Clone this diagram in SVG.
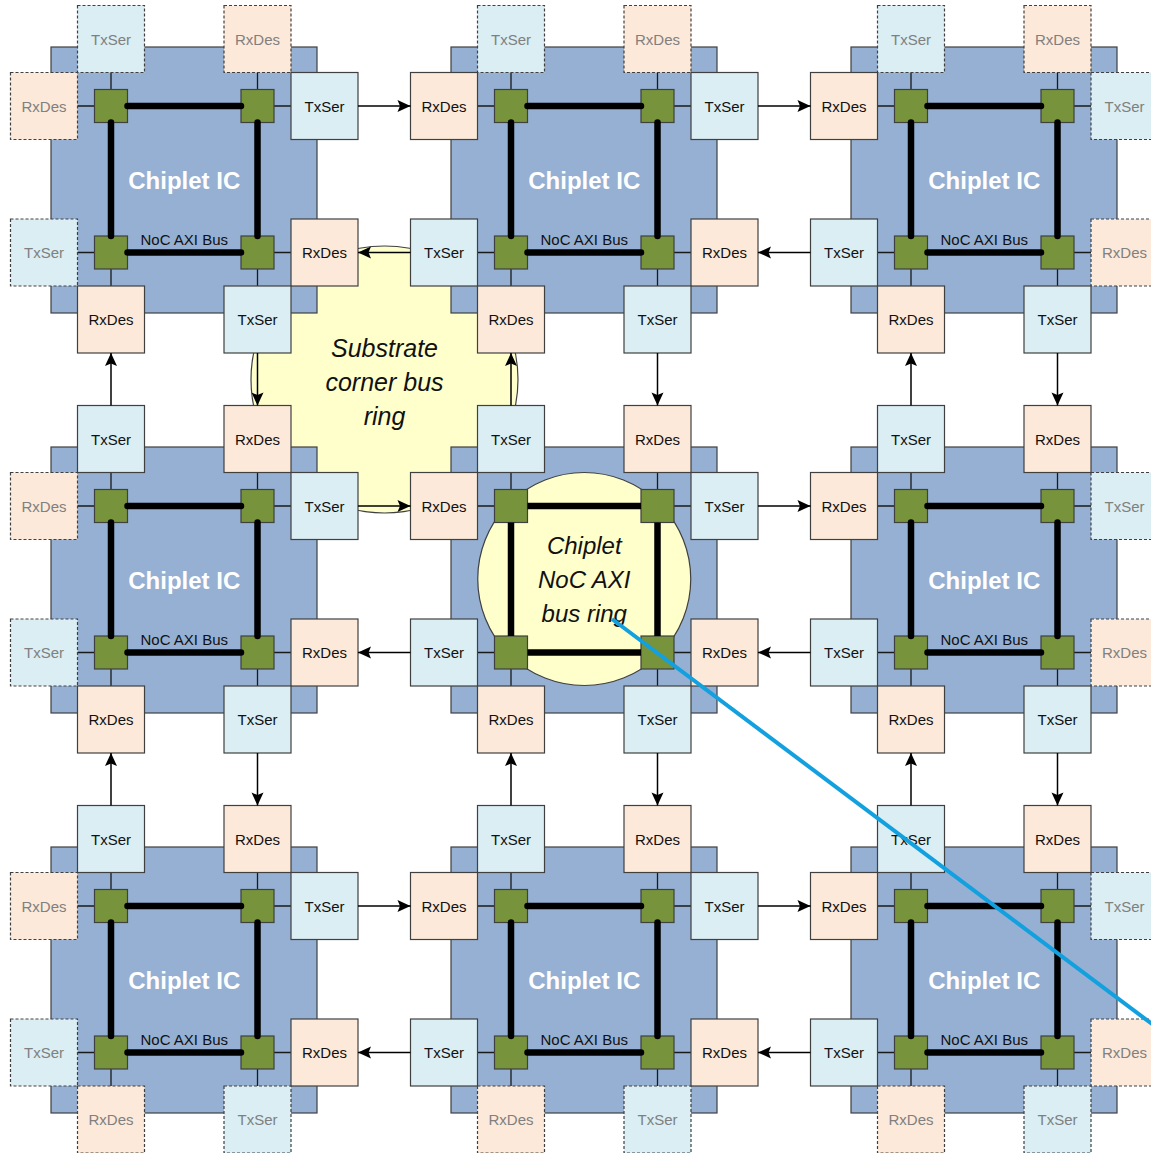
<svg xmlns="http://www.w3.org/2000/svg" width="1151" height="1153" viewBox="0 0 1151 1153">
<style>
.bg{fill:#ffffff}
.chip{fill:#95B0D3;stroke:#404040;stroke-width:1.2}
.tx{fill:#DAEEF3;stroke:#404040;stroke-width:1.2}
.rx{fill:#FDE9D9;stroke:#404040;stroke-width:1.2}
.d{stroke-dasharray:3 2}
.node{fill:#77933C;stroke:#404040;stroke-width:1.2}
.stub{fill:none;stroke:#1a1a1a;stroke-width:1.3}
.bus{fill:none;stroke:#000;stroke-width:6.5;stroke-linecap:round}
.ring{fill:#FFFFCC;stroke:#404040;stroke-width:1.2}
.t{font-family:"Liberation Sans",Arial,sans-serif;font-size:15px;fill:#111;text-anchor:middle}
.g{fill:#808080}
.ic{font-family:"Liberation Sans",Arial,sans-serif;font-size:24px;font-weight:bold;fill:#ffffff;text-anchor:middle}
.it{font-family:"Liberation Sans",Arial,sans-serif;font-size:25px;font-style:italic;fill:#111;text-anchor:middle}
.it2{font-family:"Liberation Sans",Arial,sans-serif;font-size:24px;font-style:italic;fill:#111;text-anchor:middle}
.arr{fill:none;stroke:#000;stroke-width:1.5;marker-end:url(#ah)}
</style>
<defs>
<marker id="ah" markerUnits="userSpaceOnUse" markerWidth="16" markerHeight="14" viewBox="0 -7 14 14" refX="13" refY="0" orient="auto">
<path d="M0,-6 L13,0 L0,6 L2.5,0 z" fill="#000"/>
</marker>
</defs>
<rect class="bg" x="0" y="0" width="1151" height="1153"/>

<g id="substrate-ring">
<circle class="ring" cx="384.5" cy="379.5" r="133.5"/>
<text class="it" x="384.5" y="357">Substrate</text>
<text class="it" x="384.5" y="391">corner bus</text>
<text class="it" x="384.5" y="425">ring</text>
</g>

<g id="chiplet-0-0">
<rect class="chip" x="51" y="47" width="266" height="266"/>
<path class="stub" d="M111,72.5V89.5M77.5,106H94.5M257.5,72.5V89.5M274,106H291M77.5,252.5H94.5M111,269V286M274,252.5H291M257.5,269V286"/>
<rect class="tx d" x="77.5" y="5.5" width="67" height="67"/><text class="t g" x="111" y="44.5">TxSer</text>
<rect class="rx d" x="224" y="5.5" width="67" height="67"/><text class="t g" x="257.5" y="44.5">RxDes</text>
<rect class="rx d" x="10.5" y="72.5" width="67" height="67"/><text class="t g" x="44" y="111.5">RxDes</text>
<rect class="tx" x="291" y="72.5" width="67" height="67"/><text class="t" x="324.5" y="111.5">TxSer</text>
<rect class="tx d" x="10.5" y="219" width="67" height="67"/><text class="t g" x="44" y="258">TxSer</text>
<rect class="rx" x="291" y="219" width="67" height="67"/><text class="t" x="324.5" y="258">RxDes</text>
<rect class="rx" x="77.5" y="286" width="67" height="67"/><text class="t" x="111" y="325">RxDes</text>
<rect class="tx" x="224" y="286" width="67" height="67"/><text class="t" x="257.5" y="325">TxSer</text>
<rect class="node" x="94.5" y="89.5" width="33" height="33"/><rect class="node" x="241" y="89.5" width="33" height="33"/>
<rect class="node" x="94.5" y="236" width="33" height="33"/><rect class="node" x="241" y="236" width="33" height="33"/>
<path class="bus" d="M127.5,106H241M127.5,252.5H241M111,122.5V236M257.5,122.5V236"/>
<text class="ic" x="184.25" y="189">Chiplet IC</text>
<text class="t" x="184.25" y="245">NoC AXI Bus</text>
</g>

<g id="chiplet-1-0" transform="translate(400,0)">
<rect class="chip" x="51" y="47" width="266" height="266"/>
<path class="stub" d="M111,72.5V89.5M77.5,106H94.5M257.5,72.5V89.5M274,106H291M77.5,252.5H94.5M111,269V286M274,252.5H291M257.5,269V286"/>
<rect class="tx d" x="77.5" y="5.5" width="67" height="67"/><text class="t g" x="111" y="44.5">TxSer</text>
<rect class="rx d" x="224" y="5.5" width="67" height="67"/><text class="t g" x="257.5" y="44.5">RxDes</text>
<rect class="rx" x="10.5" y="72.5" width="67" height="67"/><text class="t" x="44" y="111.5">RxDes</text>
<rect class="tx" x="291" y="72.5" width="67" height="67"/><text class="t" x="324.5" y="111.5">TxSer</text>
<rect class="tx" x="10.5" y="219" width="67" height="67"/><text class="t" x="44" y="258">TxSer</text>
<rect class="rx" x="291" y="219" width="67" height="67"/><text class="t" x="324.5" y="258">RxDes</text>
<rect class="rx" x="77.5" y="286" width="67" height="67"/><text class="t" x="111" y="325">RxDes</text>
<rect class="tx" x="224" y="286" width="67" height="67"/><text class="t" x="257.5" y="325">TxSer</text>
<rect class="node" x="94.5" y="89.5" width="33" height="33"/><rect class="node" x="241" y="89.5" width="33" height="33"/>
<rect class="node" x="94.5" y="236" width="33" height="33"/><rect class="node" x="241" y="236" width="33" height="33"/>
<path class="bus" d="M127.5,106H241M127.5,252.5H241M111,122.5V236M257.5,122.5V236"/>
<text class="ic" x="184.25" y="189">Chiplet IC</text>
<text class="t" x="184.25" y="245">NoC AXI Bus</text>
</g>

<g id="chiplet-2-0" transform="translate(800,0)">
<rect class="chip" x="51" y="47" width="266" height="266"/>
<path class="stub" d="M111,72.5V89.5M77.5,106H94.5M257.5,72.5V89.5M274,106H291M77.5,252.5H94.5M111,269V286M274,252.5H291M257.5,269V286"/>
<rect class="tx d" x="77.5" y="5.5" width="67" height="67"/><text class="t g" x="111" y="44.5">TxSer</text>
<rect class="rx d" x="224" y="5.5" width="67" height="67"/><text class="t g" x="257.5" y="44.5">RxDes</text>
<rect class="rx" x="10.5" y="72.5" width="67" height="67"/><text class="t" x="44" y="111.5">RxDes</text>
<rect class="tx d" x="291" y="72.5" width="67" height="67"/><text class="t g" x="324.5" y="111.5">TxSer</text>
<rect class="tx" x="10.5" y="219" width="67" height="67"/><text class="t" x="44" y="258">TxSer</text>
<rect class="rx d" x="291" y="219" width="67" height="67"/><text class="t g" x="324.5" y="258">RxDes</text>
<rect class="rx" x="77.5" y="286" width="67" height="67"/><text class="t" x="111" y="325">RxDes</text>
<rect class="tx" x="224" y="286" width="67" height="67"/><text class="t" x="257.5" y="325">TxSer</text>
<rect class="node" x="94.5" y="89.5" width="33" height="33"/><rect class="node" x="241" y="89.5" width="33" height="33"/>
<rect class="node" x="94.5" y="236" width="33" height="33"/><rect class="node" x="241" y="236" width="33" height="33"/>
<path class="bus" d="M127.5,106H241M127.5,252.5H241M111,122.5V236M257.5,122.5V236"/>
<text class="ic" x="184.25" y="189">Chiplet IC</text>
<text class="t" x="184.25" y="245">NoC AXI Bus</text>
</g>

<g id="chiplet-0-1" transform="translate(0,400)">
<rect class="chip" x="51" y="47" width="266" height="266"/>
<path class="stub" d="M111,72.5V89.5M77.5,106H94.5M257.5,72.5V89.5M274,106H291M77.5,252.5H94.5M111,269V286M274,252.5H291M257.5,269V286"/>
<rect class="tx" x="77.5" y="5.5" width="67" height="67"/><text class="t" x="111" y="44.5">TxSer</text>
<rect class="rx" x="224" y="5.5" width="67" height="67"/><text class="t" x="257.5" y="44.5">RxDes</text>
<rect class="rx d" x="10.5" y="72.5" width="67" height="67"/><text class="t g" x="44" y="111.5">RxDes</text>
<rect class="tx" x="291" y="72.5" width="67" height="67"/><text class="t" x="324.5" y="111.5">TxSer</text>
<rect class="tx d" x="10.5" y="219" width="67" height="67"/><text class="t g" x="44" y="258">TxSer</text>
<rect class="rx" x="291" y="219" width="67" height="67"/><text class="t" x="324.5" y="258">RxDes</text>
<rect class="rx" x="77.5" y="286" width="67" height="67"/><text class="t" x="111" y="325">RxDes</text>
<rect class="tx" x="224" y="286" width="67" height="67"/><text class="t" x="257.5" y="325">TxSer</text>
<rect class="node" x="94.5" y="89.5" width="33" height="33"/><rect class="node" x="241" y="89.5" width="33" height="33"/>
<rect class="node" x="94.5" y="236" width="33" height="33"/><rect class="node" x="241" y="236" width="33" height="33"/>
<path class="bus" d="M127.5,106H241M127.5,252.5H241M111,122.5V236M257.5,122.5V236"/>
<text class="ic" x="184.25" y="189">Chiplet IC</text>
<text class="t" x="184.25" y="245">NoC AXI Bus</text>
</g>

<g id="chiplet-1-1" transform="translate(400,400)">
<rect class="chip" x="51" y="47" width="266" height="266"/>
<circle class="ring" cx="184.25" cy="179" r="106.5"/>
<path class="stub" d="M111,72.5V89.5M77.5,106H94.5M257.5,72.5V89.5M274,106H291M77.5,252.5H94.5M111,269V286M274,252.5H291M257.5,269V286"/>
<rect class="tx" x="77.5" y="5.5" width="67" height="67"/><text class="t" x="111" y="44.5">TxSer</text>
<rect class="rx" x="224" y="5.5" width="67" height="67"/><text class="t" x="257.5" y="44.5">RxDes</text>
<rect class="rx" x="10.5" y="72.5" width="67" height="67"/><text class="t" x="44" y="111.5">RxDes</text>
<rect class="tx" x="291" y="72.5" width="67" height="67"/><text class="t" x="324.5" y="111.5">TxSer</text>
<rect class="tx" x="10.5" y="219" width="67" height="67"/><text class="t" x="44" y="258">TxSer</text>
<rect class="rx" x="291" y="219" width="67" height="67"/><text class="t" x="324.5" y="258">RxDes</text>
<rect class="rx" x="77.5" y="286" width="67" height="67"/><text class="t" x="111" y="325">RxDes</text>
<rect class="tx" x="224" y="286" width="67" height="67"/><text class="t" x="257.5" y="325">TxSer</text>
<rect class="node" x="94.5" y="89.5" width="33" height="33"/><rect class="node" x="241" y="89.5" width="33" height="33"/>
<rect class="node" x="94.5" y="236" width="33" height="33"/><rect class="node" x="241" y="236" width="33" height="33"/>
<path class="bus" d="M127.5,106H241M127.5,252.5H241M111,122.5V236M257.5,122.5V236" style="stroke-linecap:butt"/>
<text class="it2" x="184.25" y="154">Chiplet</text>
<text class="it2" x="184.25" y="188">NoC AXI</text>
<text class="it2" x="184.25" y="222">bus ring</text>
</g>

<g id="chiplet-2-1" transform="translate(800,400)">
<rect class="chip" x="51" y="47" width="266" height="266"/>
<path class="stub" d="M111,72.5V89.5M77.5,106H94.5M257.5,72.5V89.5M274,106H291M77.5,252.5H94.5M111,269V286M274,252.5H291M257.5,269V286"/>
<rect class="tx" x="77.5" y="5.5" width="67" height="67"/><text class="t" x="111" y="44.5">TxSer</text>
<rect class="rx" x="224" y="5.5" width="67" height="67"/><text class="t" x="257.5" y="44.5">RxDes</text>
<rect class="rx" x="10.5" y="72.5" width="67" height="67"/><text class="t" x="44" y="111.5">RxDes</text>
<rect class="tx d" x="291" y="72.5" width="67" height="67"/><text class="t g" x="324.5" y="111.5">TxSer</text>
<rect class="tx" x="10.5" y="219" width="67" height="67"/><text class="t" x="44" y="258">TxSer</text>
<rect class="rx d" x="291" y="219" width="67" height="67"/><text class="t g" x="324.5" y="258">RxDes</text>
<rect class="rx" x="77.5" y="286" width="67" height="67"/><text class="t" x="111" y="325">RxDes</text>
<rect class="tx" x="224" y="286" width="67" height="67"/><text class="t" x="257.5" y="325">TxSer</text>
<rect class="node" x="94.5" y="89.5" width="33" height="33"/><rect class="node" x="241" y="89.5" width="33" height="33"/>
<rect class="node" x="94.5" y="236" width="33" height="33"/><rect class="node" x="241" y="236" width="33" height="33"/>
<path class="bus" d="M127.5,106H241M127.5,252.5H241M111,122.5V236M257.5,122.5V236"/>
<text class="ic" x="184.25" y="189">Chiplet IC</text>
<text class="t" x="184.25" y="245">NoC AXI Bus</text>
</g>

<g id="chiplet-0-2" transform="translate(0,800)">
<rect class="chip" x="51" y="47" width="266" height="266"/>
<path class="stub" d="M111,72.5V89.5M77.5,106H94.5M257.5,72.5V89.5M274,106H291M77.5,252.5H94.5M111,269V286M274,252.5H291M257.5,269V286"/>
<rect class="tx" x="77.5" y="5.5" width="67" height="67"/><text class="t" x="111" y="44.5">TxSer</text>
<rect class="rx" x="224" y="5.5" width="67" height="67"/><text class="t" x="257.5" y="44.5">RxDes</text>
<rect class="rx d" x="10.5" y="72.5" width="67" height="67"/><text class="t g" x="44" y="111.5">RxDes</text>
<rect class="tx" x="291" y="72.5" width="67" height="67"/><text class="t" x="324.5" y="111.5">TxSer</text>
<rect class="tx d" x="10.5" y="219" width="67" height="67"/><text class="t g" x="44" y="258">TxSer</text>
<rect class="rx" x="291" y="219" width="67" height="67"/><text class="t" x="324.5" y="258">RxDes</text>
<rect class="rx d" x="77.5" y="286" width="67" height="67"/><text class="t g" x="111" y="325">RxDes</text>
<rect class="tx d" x="224" y="286" width="67" height="67"/><text class="t g" x="257.5" y="325">TxSer</text>
<rect class="node" x="94.5" y="89.5" width="33" height="33"/><rect class="node" x="241" y="89.5" width="33" height="33"/>
<rect class="node" x="94.5" y="236" width="33" height="33"/><rect class="node" x="241" y="236" width="33" height="33"/>
<path class="bus" d="M127.5,106H241M127.5,252.5H241M111,122.5V236M257.5,122.5V236"/>
<text class="ic" x="184.25" y="189">Chiplet IC</text>
<text class="t" x="184.25" y="245">NoC AXI Bus</text>
</g>

<g id="chiplet-1-2" transform="translate(400,800)">
<rect class="chip" x="51" y="47" width="266" height="266"/>
<path class="stub" d="M111,72.5V89.5M77.5,106H94.5M257.5,72.5V89.5M274,106H291M77.5,252.5H94.5M111,269V286M274,252.5H291M257.5,269V286"/>
<rect class="tx" x="77.5" y="5.5" width="67" height="67"/><text class="t" x="111" y="44.5">TxSer</text>
<rect class="rx" x="224" y="5.5" width="67" height="67"/><text class="t" x="257.5" y="44.5">RxDes</text>
<rect class="rx" x="10.5" y="72.5" width="67" height="67"/><text class="t" x="44" y="111.5">RxDes</text>
<rect class="tx" x="291" y="72.5" width="67" height="67"/><text class="t" x="324.5" y="111.5">TxSer</text>
<rect class="tx" x="10.5" y="219" width="67" height="67"/><text class="t" x="44" y="258">TxSer</text>
<rect class="rx" x="291" y="219" width="67" height="67"/><text class="t" x="324.5" y="258">RxDes</text>
<rect class="rx d" x="77.5" y="286" width="67" height="67"/><text class="t g" x="111" y="325">RxDes</text>
<rect class="tx d" x="224" y="286" width="67" height="67"/><text class="t g" x="257.5" y="325">TxSer</text>
<rect class="node" x="94.5" y="89.5" width="33" height="33"/><rect class="node" x="241" y="89.5" width="33" height="33"/>
<rect class="node" x="94.5" y="236" width="33" height="33"/><rect class="node" x="241" y="236" width="33" height="33"/>
<path class="bus" d="M127.5,106H241M127.5,252.5H241M111,122.5V236M257.5,122.5V236"/>
<text class="ic" x="184.25" y="189">Chiplet IC</text>
<text class="t" x="184.25" y="245">NoC AXI Bus</text>
</g>

<g id="chiplet-2-2" transform="translate(800,800)">
<rect class="chip" x="51" y="47" width="266" height="266"/>
<path class="stub" d="M111,72.5V89.5M77.5,106H94.5M257.5,72.5V89.5M274,106H291M77.5,252.5H94.5M111,269V286M274,252.5H291M257.5,269V286"/>
<rect class="tx" x="77.5" y="5.5" width="67" height="67"/><text class="t" x="111" y="44.5">TxSer</text>
<rect class="rx" x="224" y="5.5" width="67" height="67"/><text class="t" x="257.5" y="44.5">RxDes</text>
<rect class="rx" x="10.5" y="72.5" width="67" height="67"/><text class="t" x="44" y="111.5">RxDes</text>
<rect class="tx d" x="291" y="72.5" width="67" height="67"/><text class="t g" x="324.5" y="111.5">TxSer</text>
<rect class="tx" x="10.5" y="219" width="67" height="67"/><text class="t" x="44" y="258">TxSer</text>
<rect class="rx d" x="291" y="219" width="67" height="67"/><text class="t g" x="324.5" y="258">RxDes</text>
<rect class="rx d" x="77.5" y="286" width="67" height="67"/><text class="t g" x="111" y="325">RxDes</text>
<rect class="tx d" x="224" y="286" width="67" height="67"/><text class="t g" x="257.5" y="325">TxSer</text>
<rect class="node" x="94.5" y="89.5" width="33" height="33"/><rect class="node" x="241" y="89.5" width="33" height="33"/>
<rect class="node" x="94.5" y="236" width="33" height="33"/><rect class="node" x="241" y="236" width="33" height="33"/>
<path class="bus" d="M127.5,106H241M127.5,252.5H241M111,122.5V236M257.5,122.5V236"/>
<text class="ic" x="184.25" y="189">Chiplet IC</text>
<text class="t" x="184.25" y="245">NoC AXI Bus</text>
</g>

<g id="connectors">
<line class="arr" x1="358" y1="106" x2="410.5" y2="106"/>
<line class="arr" x1="758" y1="106" x2="810.5" y2="106"/>
<line class="arr" x1="358" y1="506" x2="410.5" y2="506"/>
<line class="arr" x1="758" y1="506" x2="810.5" y2="506"/>
<line class="arr" x1="358" y1="906" x2="410.5" y2="906"/>
<line class="arr" x1="758" y1="906" x2="810.5" y2="906"/>
<line class="arr" x1="410.5" y1="252.5" x2="358" y2="252.5"/>
<line class="arr" x1="810.5" y1="252.5" x2="758" y2="252.5"/>
<line class="arr" x1="410.5" y1="652.5" x2="358" y2="652.5"/>
<line class="arr" x1="810.5" y1="652.5" x2="758" y2="652.5"/>
<line class="arr" x1="410.5" y1="1052.5" x2="358" y2="1052.5"/>
<line class="arr" x1="810.5" y1="1052.5" x2="758" y2="1052.5"/>
<line class="arr" x1="111" y1="405.5" x2="111" y2="353"/>
<line class="arr" x1="511" y1="405.5" x2="511" y2="353"/>
<line class="arr" x1="911" y1="405.5" x2="911" y2="353"/>
<line class="arr" x1="111" y1="805.5" x2="111" y2="753"/>
<line class="arr" x1="511" y1="805.5" x2="511" y2="753"/>
<line class="arr" x1="911" y1="805.5" x2="911" y2="753"/>
<line class="arr" x1="257.5" y1="353" x2="257.5" y2="405.5"/>
<line class="arr" x1="657.5" y1="353" x2="657.5" y2="405.5"/>
<line class="arr" x1="1057.5" y1="353" x2="1057.5" y2="405.5"/>
<line class="arr" x1="257.5" y1="753" x2="257.5" y2="805.5"/>
<line class="arr" x1="657.5" y1="753" x2="657.5" y2="805.5"/>
<line class="arr" x1="1057.5" y1="753" x2="1057.5" y2="805.5"/>
</g>

<line id="pointer" x1="612" y1="619" x2="1152" y2="1024" stroke="#12A0DF" stroke-width="4"/>
</svg>
